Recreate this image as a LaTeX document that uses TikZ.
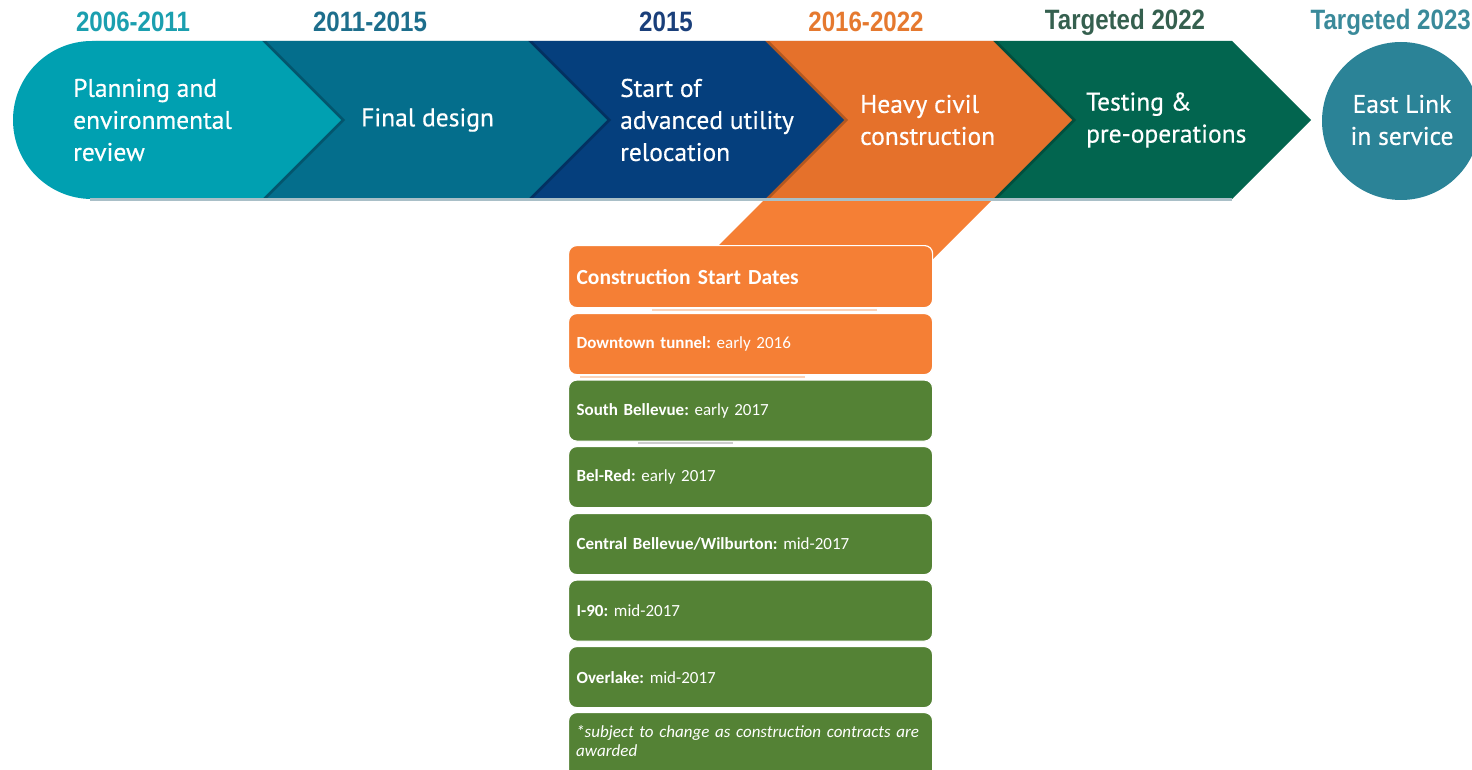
\documentclass[tikz,border=0pt]{standalone}
\usepackage{fontspec}
\setmainfont{PT Sans}
\newfontfamily\hdrfont[FakeStretch=0.86]{Liberation Sans}
\newfontfamily\calfont{Carlito}
\newfontfamily\chevfont[FakeBold=0.5]{PT Sans}
\definecolor{cTeal}{HTML}{00A0B1}
\definecolor{cDTeal}{HTML}{046E8C}
\definecolor{cNavy}{HTML}{053F7D}
\definecolor{cOrange}{HTML}{E5712B}
\definecolor{cGreen}{HTML}{02654F}
\definecolor{cCircle}{HTML}{2B8397}
\definecolor{cBoxOr}{HTML}{F57F35}
\definecolor{cBoxGr}{HTML}{548235}
\definecolor{hTeal}{HTML}{1B9FAF}
\definecolor{hDTeal}{HTML}{1D6E8C}
\definecolor{hNavy}{HTML}{1A3F7A}
\definecolor{hOrange}{HTML}{E5792F}
\definecolor{hGreen}{HTML}{35604F}
\definecolor{hCircle}{HTML}{3A8A9A}
\definecolor{band}{HTML}{A9BFC7}
\tikzset{
  hdr/.style={font=\hdrfont\bfseries\fontsize{28}{30}\selectfont, inner sep=0pt},
  chevtext/.style={text=white, align=left, anchor=west, inner sep=0pt,
    font=\chevfont\fontsize{25.5}{32}\selectfont},
  rowbox/.style={draw=white, line width=1.2pt, rounded corners=8pt,
    minimum width=364pt, minimum height=61pt, text width=348pt,
    inner xsep=8pt, align=left, anchor=north west, text=white,
    font=\calfont\fontsize{17}{19}\selectfont},
  shade/.style={fill=black, opacity=0.22},
  faint/.style={line width=2pt}
}
\begin{document}
\frenchspacing
\begin{tikzpicture}[x=1pt,y=-1pt]
\useasboundingbox (0,0) rectangle (1472,770);
\clip (0,0) rectangle (1472,770);

% header years
\node[hdr, text=hTeal]   (h1) at (133,22) {2006-2011};
\node[hdr, text=hDTeal]  (h2) at (370,22) {2011-2015};
\node[hdr, text=hNavy]   (h3) at (666,22) {2015};
\node[hdr, text=hOrange] (h4) at (866,22) {2016-2022};
\node[hdr, text=hGreen]  (h5) at (1125,22) {Targeted 2022};
\node[hdr, text=hCircle, anchor=east] (h6) at (1471,22) {Targeted 2023};

% connector from heavy civil construction to box list
\fill[cBoxOr] (765,199) -- (993,199) -- (933,259) -- (705,259) -- cycle;

% chevrons, right to left
\fill[cGreen] (993,41) -- (1232,41) -- (1311,120) -- (1232,199) -- (993,199) -- cycle;
\fill[shade] (769,41) -- (997,41) -- (1076,120) -- (997,199) -- (769,199) -- cycle;
\fill[cOrange] (765,41) -- (993,41) -- (1072,120) -- (993,199) -- (765,199) -- cycle;
\fill[shade] (532,41) -- (769,41) -- (848,120) -- (769,199) -- (532,199) -- cycle;
\fill[cNavy] (528,41) -- (765,41) -- (844,120) -- (765,199) -- (528,199) -- cycle;
\fill[shade] (266,41) -- (532,41) -- (611,120) -- (532,199) -- (266,199) -- cycle;
\fill[cDTeal] (262,41) -- (528,41) -- (607,120) -- (528,199) -- (262,199) -- cycle;
\fill[shade] (266,41) -- (96,41) arc[start angle=90, end angle=270, radius=79pt] -- (266,199) -- (345,120) -- cycle;
\fill[cTeal] (262,41) -- (92,41) arc[start angle=90, end angle=270, radius=79pt] -- (262,199) -- (341,120) -- cycle;
\draw[band, line width=3pt] (90,199.5) -- (1232,199.5);

% final circle
\fill[cCircle] (1401,121) circle[radius=79pt];

% chevron texts
\node[chevtext] (c1) at (73,120) {Planning and\\environmental\\review};
\node[chevtext] (c2) at (361,120) {Final design};
\node[chevtext] (c3) at (620,120) {Start of\\advanced utility\\relocation};
\node[chevtext] (c4) at (860,120) {Heavy civil\\construction};
\node[chevtext] (c5) at (1086,120) {Testing \&\\pre-operations};
\node[chevtext, align=center, anchor=center] (c6) at (1402,120) {East Link\\in service};

% faint separators
\draw[faint, color=cBoxOr!35] (652,310) -- (877,310);
\draw[faint, color=cBoxOr!35] (580,376.5) -- (805,376.5);
\draw[faint, color=black!20] (638,443) -- (733,443);

% box list
\node[rowbox, fill=cBoxOr, minimum height=62pt, font=\calfont\bfseries\fontsize{21.5}{24}\selectfont] (b0) at (568,245) {Construction Start Dates};
\node[rowbox, fill=cBoxOr] (b1) at (568,313) {\textbf{Downtown tunnel:} early 2016};
\node[rowbox, fill=cBoxGr] (b2) at (568,379.5) {\textbf{South Bellevue:} early 2017};
\node[rowbox, fill=cBoxGr] (b3) at (568,446) {\textbf{Bel-Red:} early 2017};
\node[rowbox, fill=cBoxGr] (b4) at (568,513) {\textbf{Central Bellevue/Wilburton:} mid-2017};
\node[rowbox, fill=cBoxGr] (b5) at (568,579.5) {\textbf{I-90:} mid-2017};
\node[rowbox, fill=cBoxGr] (b6) at (568,646) {\textbf{Overlake:} mid-2017};
\node[rowbox, fill=cBoxGr, minimum height=70pt] (b7) at (568,712) {};
\node[text=white, align=left, anchor=north west, inner sep=0pt, text width=356pt,
  font=\calfont\itshape\fontsize{17}{19}\selectfont] (b7t) at (576,725) {*subject to change as construction contracts are\\awarded};
\end{tikzpicture}
\end{document}
